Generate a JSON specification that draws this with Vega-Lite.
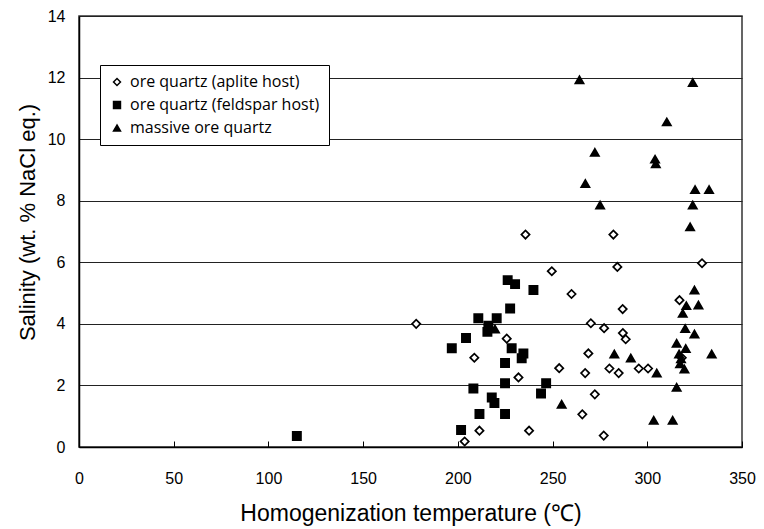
{
  "$schema": "https://vega.github.io/schema/vega-lite/v6.json",
  "autosize": {"type": "none"},
  "width": 663,
  "height": 431,
  "padding": {"left": 79, "top": 16, "right": 22, "bottom": 82},
  "background": "white",
  "config": {
    "font": "Liberation Sans",
    "view": {"stroke": "#333", "strokeWidth": 1.5},
    "axis": {"labelColor": "#000", "titleColor": "#000", "domainColor": "#000", "tickColor": "#000", "labelFlush": false}
  },
  "data": {
    "values": [
      {"series": "ore quartz (aplite host)", "t": 178, "s": 4.0},
      {"series": "ore quartz (aplite host)", "t": 260, "s": 4.97},
      {"series": "ore quartz (aplite host)", "t": 225.8, "s": 3.52},
      {"series": "ore quartz (aplite host)", "t": 208.7, "s": 2.9},
      {"series": "ore quartz (aplite host)", "t": 253.5, "s": 2.56},
      {"series": "ore quartz (aplite host)", "t": 232, "s": 2.26},
      {"series": "ore quartz (aplite host)", "t": 211.4, "s": 0.53},
      {"series": "ore quartz (aplite host)", "t": 237.6, "s": 0.53},
      {"series": "ore quartz (aplite host)", "t": 203.6, "s": 0.18},
      {"series": "ore quartz (aplite host)", "t": 235.7, "s": 6.9},
      {"series": "ore quartz (aplite host)", "t": 249.6, "s": 5.71},
      {"series": "ore quartz (aplite host)", "t": 282.1, "s": 6.9},
      {"series": "ore quartz (aplite host)", "t": 284.2, "s": 5.85},
      {"series": "ore quartz (aplite host)", "t": 328.9, "s": 5.97},
      {"series": "ore quartz (aplite host)", "t": 287, "s": 4.48},
      {"series": "ore quartz (aplite host)", "t": 317, "s": 4.77},
      {"series": "ore quartz (aplite host)", "t": 270.2, "s": 4.02},
      {"series": "ore quartz (aplite host)", "t": 277.2, "s": 3.86},
      {"series": "ore quartz (aplite host)", "t": 287.1, "s": 3.7},
      {"series": "ore quartz (aplite host)", "t": 288.6, "s": 3.5},
      {"series": "ore quartz (aplite host)", "t": 268.9, "s": 3.04},
      {"series": "ore quartz (aplite host)", "t": 267.2, "s": 2.4},
      {"series": "ore quartz (aplite host)", "t": 280, "s": 2.55},
      {"series": "ore quartz (aplite host)", "t": 284.9, "s": 2.4},
      {"series": "ore quartz (aplite host)", "t": 295.5, "s": 2.55},
      {"series": "ore quartz (aplite host)", "t": 300.4, "s": 2.55},
      {"series": "ore quartz (aplite host)", "t": 272.3, "s": 1.71},
      {"series": "ore quartz (aplite host)", "t": 265.7, "s": 1.06},
      {"series": "ore quartz (aplite host)", "t": 277, "s": 0.37},
      {"series": "ore quartz (aplite host)", "t": 318.2, "s": 2.9},
      {"series": "ore quartz (feldspar host)", "t": 115, "s": 0.36},
      {"series": "ore quartz (feldspar host)", "t": 226.3, "s": 5.42},
      {"series": "ore quartz (feldspar host)", "t": 230.2, "s": 5.29},
      {"series": "ore quartz (feldspar host)", "t": 239.9, "s": 5.1},
      {"series": "ore quartz (feldspar host)", "t": 227.6, "s": 4.5},
      {"series": "ore quartz (feldspar host)", "t": 210.8, "s": 4.18},
      {"series": "ore quartz (feldspar host)", "t": 220.5, "s": 4.18},
      {"series": "ore quartz (feldspar host)", "t": 216.1, "s": 3.94},
      {"series": "ore quartz (feldspar host)", "t": 215.6, "s": 3.74},
      {"series": "ore quartz (feldspar host)", "t": 204.3, "s": 3.54},
      {"series": "ore quartz (feldspar host)", "t": 196.8, "s": 3.21},
      {"series": "ore quartz (feldspar host)", "t": 228.4, "s": 3.21},
      {"series": "ore quartz (feldspar host)", "t": 234.6, "s": 3.04},
      {"series": "ore quartz (feldspar host)", "t": 233.7, "s": 2.88},
      {"series": "ore quartz (feldspar host)", "t": 224.9, "s": 2.73},
      {"series": "ore quartz (feldspar host)", "t": 224.9, "s": 2.07},
      {"series": "ore quartz (feldspar host)", "t": 246.6, "s": 2.07},
      {"series": "ore quartz (feldspar host)", "t": 208.2, "s": 1.9},
      {"series": "ore quartz (feldspar host)", "t": 243.9, "s": 1.74},
      {"series": "ore quartz (feldspar host)", "t": 217.9, "s": 1.61},
      {"series": "ore quartz (feldspar host)", "t": 219.3, "s": 1.43},
      {"series": "ore quartz (feldspar host)", "t": 211.4, "s": 1.07},
      {"series": "ore quartz (feldspar host)", "t": 224.9, "s": 1.07},
      {"series": "ore quartz (feldspar host)", "t": 201.7, "s": 0.55},
      {"series": "massive ore quartz", "t": 264.2, "s": 11.93},
      {"series": "massive ore quartz", "t": 324, "s": 11.84},
      {"series": "massive ore quartz", "t": 310.3, "s": 10.56},
      {"series": "massive ore quartz", "t": 272.3, "s": 9.57},
      {"series": "massive ore quartz", "t": 304.1, "s": 9.35},
      {"series": "massive ore quartz", "t": 304.5, "s": 9.2},
      {"series": "massive ore quartz", "t": 267.3, "s": 8.56},
      {"series": "massive ore quartz", "t": 325.2, "s": 8.36},
      {"series": "massive ore quartz", "t": 332.6, "s": 8.36},
      {"series": "massive ore quartz", "t": 275.1, "s": 7.86},
      {"series": "massive ore quartz", "t": 324, "s": 7.86},
      {"series": "massive ore quartz", "t": 322.6, "s": 7.15},
      {"series": "massive ore quartz", "t": 324.9, "s": 5.1},
      {"series": "massive ore quartz", "t": 327, "s": 4.61},
      {"series": "massive ore quartz", "t": 320.6, "s": 4.59},
      {"series": "massive ore quartz", "t": 318.7, "s": 4.34},
      {"series": "massive ore quartz", "t": 320, "s": 3.85},
      {"series": "massive ore quartz", "t": 324.9, "s": 3.67},
      {"series": "massive ore quartz", "t": 315.5, "s": 3.37},
      {"series": "massive ore quartz", "t": 320.3, "s": 3.2},
      {"series": "massive ore quartz", "t": 316.8, "s": 3.02},
      {"series": "massive ore quartz", "t": 334, "s": 3.02},
      {"series": "massive ore quartz", "t": 317.8, "s": 2.86},
      {"series": "massive ore quartz", "t": 317.3, "s": 2.7},
      {"series": "massive ore quartz", "t": 319.6, "s": 2.53},
      {"series": "massive ore quartz", "t": 282.6, "s": 3.02},
      {"series": "massive ore quartz", "t": 291.3, "s": 2.89},
      {"series": "massive ore quartz", "t": 305, "s": 2.4},
      {"series": "massive ore quartz", "t": 315.5, "s": 1.94},
      {"series": "massive ore quartz", "t": 254.8, "s": 1.39},
      {"series": "massive ore quartz", "t": 303.4, "s": 0.87},
      {"series": "massive ore quartz", "t": 313.4, "s": 0.87},
      {"series": "massive ore quartz", "t": 219.6, "s": 3.83}
    ]
  },
  "mark": {"type": "point", "filled": false, "strokeWidth": 1.7, "opacity": 1, "size": 68},
  "encoding": {
    "x": {
      "field": "t", "type": "quantitative",
      "scale": {"domain": [0, 350], "nice": false, "zero": false},
      "axis": {
        "values": [0, 50, 100, 150, 200, 250, 300, 350],
        "title": "Homogenization temperature (℃)",
        "titleFontSize": 23, "titleFontWeight": "normal", "titlePadding": 16,
        "labelFontSize": 16, "labelPadding": 29,
        "tickSize": -6, "grid": false, "domainWidth": 1.5
      }
    },
    "y": {
      "field": "s", "type": "quantitative",
      "scale": {"domain": [0, 14], "nice": false},
      "axis": {
        "values": [0, 2, 4, 6, 8, 10, 12, 14],
        "title": "Salinity (wt. % NaCl eq.)",
        "titleFontSize": 22, "titleFontWeight": "normal", "titlePadding": 8, "titleY": 206,
        "labelFontSize": 16, "labelPadding": 14,
        "ticks": false, "grid": true, "gridColor": "#222", "gridWidth": 1.2, "domainWidth": 1.5
      }
    },
    "shape": {
      "field": "series", "type": "nominal",
      "scale": {
        "domain": ["ore quartz (aplite host)", "ore quartz (feldspar host)", "massive ore quartz"],
        "range": ["diamond", "square", "triangle-up"]
      },
      "legend": {
        "title": null, "orient": "none", "legendX": 21, "legendY": 49,
        "strokeColor": "#000", "fillColor": "white", "padding": 9,
        "labelFontSize": 16, "labelFont": "Open Sans", "labelLimit": 400, "rowPadding": 7, "symbolSize": 48,
        "symbolStrokeWidth": 1.5, "labelOffset": 5
      }
    },
    "fill": {
      "field": "series", "type": "nominal",
      "scale": {
        "domain": ["ore quartz (aplite host)", "ore quartz (feldspar host)", "massive ore quartz"],
        "range": ["white", "black", "black"]
      },
      "legend": {
        "title": null, "orient": "none", "legendX": 21, "legendY": 49,
        "strokeColor": "#000", "fillColor": "white", "padding": 9,
        "labelFontSize": 16, "labelFont": "Open Sans", "labelLimit": 400, "rowPadding": 7, "symbolSize": 48,
        "symbolStrokeWidth": 1.5, "labelOffset": 5
      }
    },
    "stroke": {
      "field": "series", "type": "nominal",
      "scale": {
        "domain": ["ore quartz (aplite host)", "ore quartz (feldspar host)", "massive ore quartz"],
        "range": ["black", "black", "black"]
      },
      "legend": {
        "title": null, "orient": "none", "legendX": 21, "legendY": 49,
        "strokeColor": "#000", "fillColor": "white", "padding": 9,
        "labelFontSize": 16, "labelFont": "Open Sans", "labelLimit": 400, "rowPadding": 7, "symbolSize": 48,
        "symbolStrokeWidth": 1.5, "labelOffset": 5
      }
    }
  }
}
